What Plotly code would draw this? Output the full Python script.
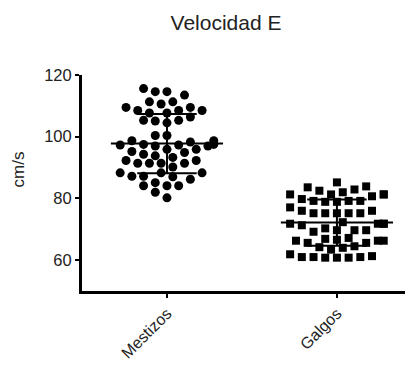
import numpy as np
import plotly.graph_objects as go

categories = ["Mestizos", "Galgos"]

mestizos = [115.6, 114.6, 113.5, 114.6, 111.3, 110.6, 111.3, 109.5, 109.5, 107.7,
            108.5, 108.5, 108.5, 107.7, 106.4, 105.1, 104.5, 105.3, 105.3,
            100.4, 100.4, 98.7, 98.7,
            97.3, 97.5, 97.0, 97.0, 97.5, 97.3, 98.3,
            95.2, 94.9, 95.9, 95.9, 93.8, 94.3, 93.3, 92.3, 92.3, 90.2,
            91.4, 91.4, 91.4, 91.4,
            87.2, 87.0, 88.3, 88.3, 88.3, 86.2, 87.2, 85.1, 84.1, 84.1,
            84.1, 82.0, 80.2]

galgos = [85.2, 83.6, 82.5, 78.9, 81.3, 78.9, 79.8, 81.3, 81.3, 80.7, 81.3,
          79.2, 82.9, 83.9, 79.2, 82.0, 79.2,
          75.2, 75.2, 75.2, 75.2, 75.2, 76.0, 76.0, 77.1,
          71.3, 71.8, 71.8, 71.8, 71.8, 72.3,
          69.7, 69.7, 69.7, 70.3, 69.2,
          66.9, 66.3, 66.3, 66.3, 66.6, 67.2, 65.6, 65.6,
          64.0, 64.5, 63.4, 64.2,
          61.0, 61.0, 61.0, 60.8, 60.8, 60.8, 61.3, 61.9]

y_ticks = [60, 80, 100, 120]
y_range = [50, 120]
x_range = [-0.5, 1.43]

# page body has an 8px margin: size the figure so it fills the 413x365 window
OFF = 8
W, H = 413 - OFF, 365 - OFF
ML, MR, MT, MB = 82 - OFF, 3, 75 - OFF, 67
pw = W - ML - MR
ph = H - MT - MB
px_per_x = pw / (x_range[1] - x_range[0])
px_per_y = ph / (y_range[1] - y_range[0])


def swarm(values, step=11.7, dmin=9.6):
    vals = np.asarray(values, dtype=float)
    order = np.argsort(vals)
    cands = sorted([j * step / 2 for j in range(-8, 9)], key=lambda o: (abs(o), o))
    placed = []
    offs = np.zeros(len(vals))
    for i in order:
        ypx = vals[i] * px_per_y
        chosen = cands[-1]
        for o in cands:
            if all((o - a) ** 2 + (ypx - b) ** 2 >= dmin ** 2 for a, b in placed):
                chosen = o
                break
        placed.append((chosen, ypx))
        offs[i] = chosen
    return offs / px_per_x


fig = go.Figure()

groups = [(mestizos, "circle", 9), (galgos, "square", 8)]
for ci, (vals, sym, size) in enumerate(groups):
    offs = swarm(vals)
    fig.add_trace(go.Scatter(
        x=ci + offs, y=vals, mode="markers",
        marker=dict(symbol=sym, size=size, color="black", line=dict(width=0)),
        showlegend=False, hoverinfo="y"))
    m = float(np.mean(vals))
    sd = float(np.std(vals, ddof=1))
    mean_half, cap_half = 0.33, 0.175
    xs = [ci - mean_half, ci + mean_half, None,
          ci, ci, None,
          ci - cap_half, ci + cap_half, None,
          ci - cap_half, ci + cap_half]
    ys = [m, m, None,
          m - sd, m + sd, None,
          m + sd, m + sd, None,
          m - sd, m - sd]
    fig.add_trace(go.Scatter(x=xs, y=ys, mode="lines",
                             line=dict(color="black", width=2),
                             showlegend=False, hoverinfo="skip"))

font_family = "Arial, Liberation Sans, sans-serif"

fig.update_layout(
    width=W, height=H,
    margin=dict(l=ML, r=MR, t=MT, b=MB, pad=0),
    paper_bgcolor="white", plot_bgcolor="white",
    font=dict(family=font_family, color="#222", size=16),
    title=dict(text="Velocidad E", x=(226 - OFF) / W, xanchor="center",
               y=1 - (23 - OFF) / H, yanchor="middle",
               font=dict(size=21, color="#222", family=font_family)),
    xaxis=dict(range=x_range, tickmode="array", tickvals=[0, 1],
               ticktext=categories, tickangle=-45,
               showline=True, linecolor="black", linewidth=3,
               ticks="outside", ticklen=4, tickwidth=2, tickcolor="black",
               showgrid=False, zeroline=False,
               tickfont=dict(size=16, color="#222")),
    yaxis=dict(range=y_range, tickmode="array", tickvals=y_ticks,
               showline=True, linecolor="black", linewidth=3,
               ticks="outside", ticklen=4, tickwidth=2, tickcolor="black",
               showgrid=False, zeroline=False,
               tickfont=dict(size=16.5, color="#222")),
    annotations=[dict(text="cm/s", xref="paper", yref="paper",
                      x=(18.5 - OFF - ML) / pw, y=1 - (173 - OFF - MT) / ph,
                      xanchor="center", yanchor="middle", textangle=-90,
                      showarrow=False, font=dict(size=17, color="#222"))],
)

fig.write_html("out.html")
